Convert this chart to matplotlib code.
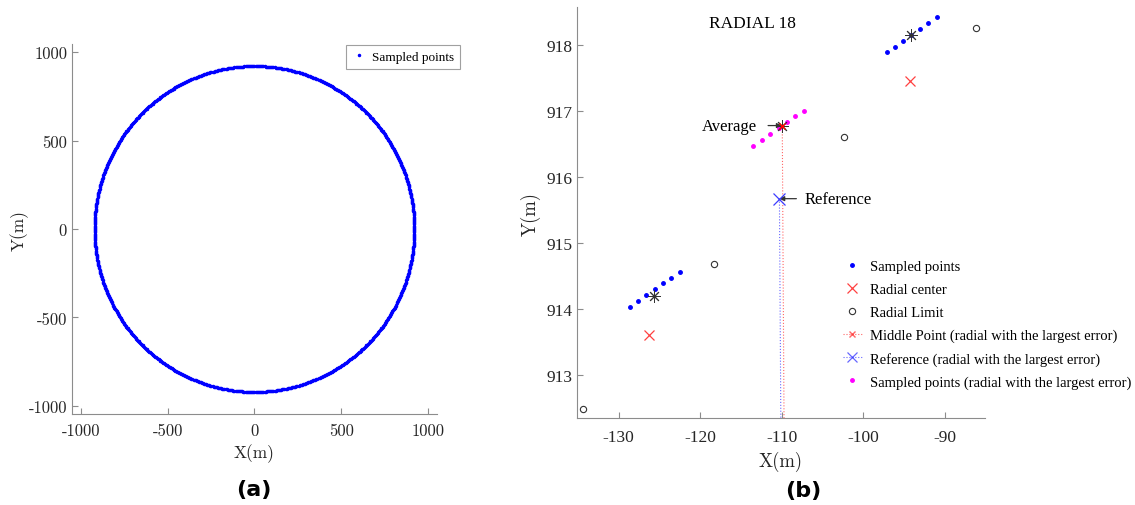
"""
Sampled circle (a) and zoom on radial 18 (b)
"""

import matplotlib.pyplot as plt
import numpy as np

plt.rcParams['axes.unicode_minus'] = False

# (a) sampled points, read as a ring of radius ~922 m centred at the origin
CENTER_A = (0.0, 0.0)
RADIUS_A = 922.0
N_SAMPLED_A = 900

# (b) radial 18
blue_x = [-97.16, -96.14, -95.12, -94.18, -93.08, -92.06, -91.03,
          -128.65, -127.63, -126.62, -125.59, -124.57, -123.55, -122.52]
blue_y = [917.89, 917.98, 918.07, 918.16,918.25, 918.34, 918.43,
          914.02, 914.12, 914.21, 914.30, 914.39, 914.47, 914.56]

center_x = [-94.3, -126.29]
center_y = [917.46, 913.60]

limit_x = [-86.21, -102.35, -118.36, -134.34]
limit_y = [918.26, 916.61, 914.68, 912.47]

avg_x = [-94.18, -125.67, -110.02]
avg_y = [918.16, 914.20, 916.78]

magenta_x = [-113.5, -112.44, -111.42, -110.39, -109.37, -108.36, -107.33]
magenta_y = [916.47, 916.56, 916.65, 916.74, 916.83, 916.92, 917.0]

middle_x = [-109.95, -109.72]
middle_y = [916.78, 912.0]

ref_x = [-110.3, -110.11]
ref_y = [915.67, 912.0]

XTICKS_B = [-130, -120, -110, -100, -90]
YTICKS_B = [913, 914, 915, 916, 917, 918]

SPINE = '#8c8c8c'
SERIF = ['Liberation Serif', 'DejaVu Serif']

fig = plt.figure(figsize=(11.35, 5.06), dpi=100)
ax1 = fig.add_axes([0.0634, 0.1798, 0.3216, 0.7312])
ax2 = fig.add_axes([0.5084, 0.1719, 0.3595, 0.8123])

for ax in (ax1, ax2):
    for s in ('top', 'right'):
        ax.spines[s].set_visible(False)
    for s in ('left', 'bottom'):
        ax.spines[s].set_color(SPINE)
        ax.spines[s].set_linewidth(0.8)
    ax.tick_params(direction='in', color=SPINE, length=4, width=0.8,
                   labelcolor='#262626')

# ---- (a)
theta = np.linspace(0, 2 * np.pi, N_SAMPLED_A, endpoint=False)
cx = CENTER_A[0] + RADIUS_A * np.cos(theta)
cy = CENTER_A[1] + RADIUS_A * np.sin(theta)
ax1.plot(cx, cy, '.', color='blue', ms=3, label='Sampled points')
ax1.set_xlim(-1052, 1052)
ax1.set_ylim(-1047, 1047)
ax1.set_xticks([-1000, -500, 0, 500, 1000])
ax1.set_yticks([-1000, -500, 0, 500, 1000])
ax1.tick_params(axis='x', pad=6)
for lab in ax1.get_xticklabels() + ax1.get_yticklabels():
    lab.set_family('cmr10')
    lab.set_fontsize(12)
ax1.set_xlabel('X(m)', family='cmr10', fontsize=12.5, color='#262626', labelpad=4)
ax1.set_ylabel('Y(m)', family='cmr10', fontsize=12.5, color='#262626', labelpad=0)
leg1 = ax1.legend(loc='upper right', bbox_to_anchor=(460 / 1135, 1 - 45.7 / 506),
                  bbox_transform=fig.transFigure, borderaxespad=0,
                  fancybox=False, edgecolor='#a0a0a0', framealpha=1,
                  handlelength=1.0, handletextpad=0.5, borderpad=0.45,
                  prop={'family': SERIF, 'size': 9.5})
leg1.get_frame().set_linewidth(0.8)

# ---- (b)
ax2.plot(blue_x, blue_y, '.', color='blue', ms=5, label='Sampled points')
ax2.plot(center_x, center_y, 'x', color='#ff4040', ms=7, mew=0.9,
         label='Radial center')
ax2.plot(limit_x, limit_y, 'o', mfc='none', mec='#333333', ms=4.5, mew=0.8,
         label='Radial Limit')
ax2.plot(magenta_x, magenta_y, '.', color='magenta', ms=5, zorder=3)
ax2.plot(avg_x, avg_y, marker=(8, 2, 0), ls='none', color='#333333', ms=9,
         mew=0.7, zorder=4)
ax2.plot(middle_x, middle_y, ':', color='red', lw=0.8, alpha=0.6, zorder=2)
ax2.plot(middle_x[:1], middle_y[:1], 'x', color='red', ms=5, mew=1.0, zorder=5)
ax2.plot(ref_x, ref_y, ':', color='blue', lw=0.8, alpha=0.6, zorder=2)
ax2.plot(ref_x[:1], ref_y[:1], 'x', color='#3c3cff', ms=8, mew=0.9, zorder=5)

# legend proxies for the largest-error radial
h_mid, = ax2.plot([], [], ':', color='red', lw=0.8, alpha=0.6, marker='x',
                  ms=5, mew=1.0, label='Middle Point (radial with the largest error)')
h_ref, = ax2.plot([], [], ':', color='blue', lw=0.8, alpha=0.6, marker='x',
                  ms=7, mew=0.9, label='Reference (radial with the largest error)')
h_mag, = ax2.plot([], [], '.', color='magenta', ms=5,
                  label='Sampled points (radial with the largest error)')

ax2.annotate('Average', xy=(avg_x[2], avg_y[2]), xytext=(-113.05, avg_y[2]),
             ha='right', va='center', family=SERIF, fontsize=12,
             arrowprops=dict(arrowstyle='-|>', color='#333333', lw=0.9,
                             mutation_scale=7, shrinkA=6, shrinkB=0))
ax2.annotate('Reference', xy=(ref_x[0], ref_y[0]), xytext=(-107.2, ref_y[0]),
             ha='left', va='center', family=SERIF, fontsize=12,
             arrowprops=dict(arrowstyle='-|>', color='#333333', lw=0.9,
                             mutation_scale=7, shrinkA=4, shrinkB=0))

ax2.text(0.429, 0.96, 'RADIAL 18', transform=ax2.transAxes, ha='center',
         va='center', family=SERIF, fontsize=12.5)

ax2.set_xlim(-135.1, -85.1)
ax2.set_ylim(912.34, 918.58)
ax2.set_xticks(XTICKS_B)
ax2.set_yticks(YTICKS_B)
ax2.tick_params(axis='x', pad=8)
for lab in ax2.get_xticklabels() + ax2.get_yticklabels():
    lab.set_family(SERIF)
    lab.set_fontsize(12.5)
ax2.set_xlabel('X(m)', family='cmr10', fontsize=13.5, color='#262626', labelpad=4)
ax2.set_ylabel('Y(m)', family='cmr10', fontsize=13.5, color='#262626', labelpad=4)

ax2.legend(loc='upper left', bbox_to_anchor=(843 / 1135, 1 - 261 / 506),
           bbox_transform=fig.transFigure, frameon=False, borderaxespad=0,
           borderpad=0, handlelength=1.3, handletextpad=0.55, labelspacing=0.66,
           prop={'family': SERIF, 'size': 10.5})

fig.text(254 / 1135, 1 - 490 / 506, '(a)', ha='center', va='center',
         fontsize=16, fontweight='bold')
fig.text(803 / 1135, 1 - 491 / 506, '(b)', ha='center', va='center',
         fontsize=16, fontweight='bold')

fig.savefig('out.png', dpi=100)
